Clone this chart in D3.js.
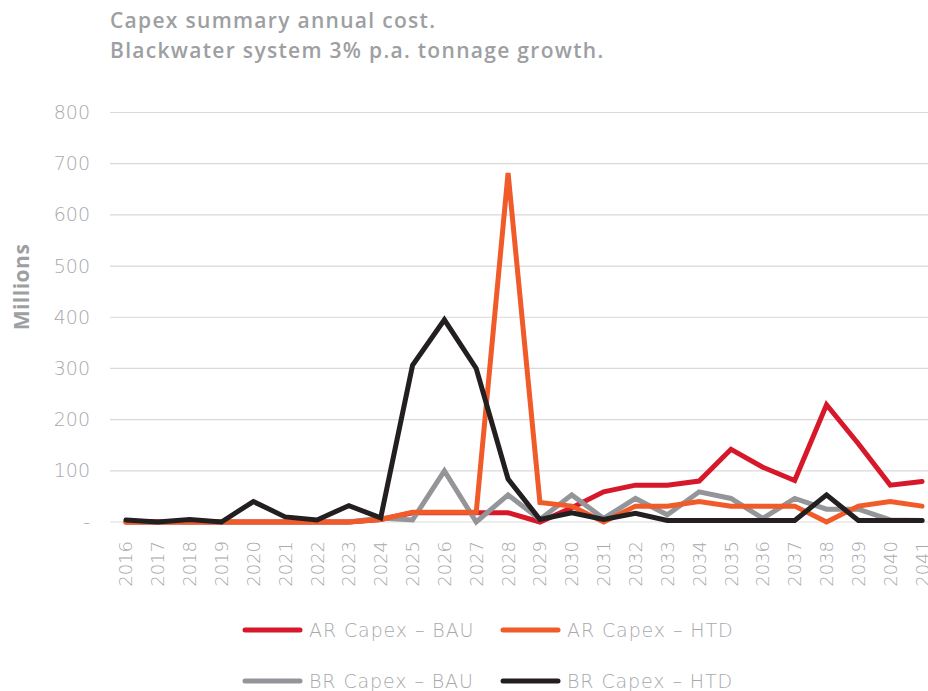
<!DOCTYPE html>
<html><head><meta charset="utf-8">
<script src="https://cdn.jsdelivr.net/npm/d3@7/dist/d3.min.js"></script>
<style>
body{margin:0;background:#fff;}
svg{display:block;}
</style></head>
<body>
<svg id="chart" width="928" height="691"></svg>
<script>
const years = ["2016","2017","2018","2019","2020","2021","2022","2023","2024","2025","2026","2027","2028","2029","2030","2031","2032","2033","2034","2035","2036","2037","2038","2039","2040","2041"];
const arBAU = [0,0,0,0,0,0,0,0,5,18,18,18,18,0,28,59,72,72,80,142,107,81,229,153,72,79];
const arHTD = [0,0,0,0,0,0,0,0,5,19,19,19,682,38,31,0,31,31,40,31,31,31,0,31,40,31];
const brBAU = [0,0,0,0,0,0,0,0,8,4,100,0,53,5,53,7,46,14,59,46,7,46,25,25,4,3];
const brHTD = [4,0,5,0,40,10,4,32,8,306,395,300,84,5,18,5,17,3,3,3,3,3,53,3,3,3];
const yTicks = [0,100,200,300,400,500,600,700,800];
const seriesNames = ["AR Capex – BAU","AR Capex – HTD","BR Capex – BAU","BR Capex – HTD"];
const seriesColors = ["#d7182a","#f15a29","#939598","#231f20"];
const titleLines = ["Capex summary annual cost.","Blackwater system 3% p.a. tonnage growth."];

const svg = d3.select("#chart");
const txtColor = "#a7a9ac";
const lightFont = "'DejaVu Sans', sans-serif";
const x = d3.scaleBand().domain(years).range([110, 938]).padding(0);
const y = d3.scaleLinear().domain([0, 800]).range([522, 112.5]);
const cx = d => x(d) + x.bandwidth()/2;

// title
svg.append("g").selectAll("text").data(titleLines).join("text")
  .attr("x", 110).attr("y", (d,i) => 28 + i*30)
  .attr("font-family", "'Open Sans', sans-serif").attr("font-weight", 600)
  .attr("font-size", 21).attr("letter-spacing", 1.3).attr("fill", "#9d9fa2").text(d => d);

// grid
const grid = svg.append("g");
grid.selectAll("line").data(yTicks).join("line")
  .attr("x1", 110).attr("x2", 928)
  .attr("y1", d => y(d)).attr("y2", d => y(d))
  .attr("stroke", "#d9d9d9").attr("stroke-width", 1.2);

// y axis
const yAxis = d3.axisLeft(y).tickValues(yTicks).tickSize(0).tickPadding(0)
  .tickFormat(d => d === 0 ? "-" : d3.format("d")(d));
const ya = svg.append("g").attr("transform", "translate(90,0)").call(yAxis);
ya.select(".domain").remove();
ya.selectAll("text").attr("font-family", lightFont).attr("font-weight", 200)
  .attr("font-size", 19).attr("fill", txtColor);

// y title
svg.append("text").attr("transform", "translate(29,287) rotate(-90)")
  .attr("text-anchor", "middle").attr("font-family", "'Open Sans', sans-serif")
  .attr("font-weight", 700).attr("font-size", 21).attr("letter-spacing", 0.5)
  .attr("fill", "#9d9fa2").text("Millions");

// x axis
const xAxis = d3.axisBottom(x).tickSize(0).tickPadding(0);
const xa = svg.append("g").attr("transform", "translate(0,541)").call(xAxis);
xa.select(".domain").remove();
xa.selectAll("text").attr("font-family", lightFont).attr("font-weight", 200)
  .attr("font-size", 18).attr("fill", txtColor)
  .attr("text-anchor", "end").attr("dy", null)
  .attr("transform", "rotate(-90)").attr("x", 0).attr("y", 0)
  .attr("dominant-baseline", "central");

// lines
const allSeries = [arBAU, brBAU, arHTD, brHTD];
const allColors = [seriesColors[0], seriesColors[2], seriesColors[1], seriesColors[3]];
const line = d3.line().x((d,i) => cx(years[i])).y(d => y(d));
svg.append("g").selectAll("path").data(allSeries).join("path")
  .attr("d", line).attr("fill", "none")
  .attr("stroke", (d,i) => allColors[i]).attr("stroke-width", 5)
  .attr("stroke-linejoin", "miter").attr("stroke-miterlimit", 4).attr("stroke-linecap", "round");

// legend
const legPos = [[245,630],[503,630],[245,681],[503,681]];
const leg = svg.append("g").selectAll("g").data(seriesNames).join("g")
  .attr("transform", (d,i) => `translate(${legPos[i][0]},${legPos[i][1]})`);
leg.append("line").attr("x1", 0).attr("x2", 55).attr("y1", 0).attr("y2", 0)
  .attr("stroke", (d,i) => seriesColors[i]).attr("stroke-width", 5).attr("stroke-linecap", "round");
leg.append("text").attr("x", 64).attr("y", 0).attr("dy", "0.35em")
  .attr("font-family", lightFont).attr("font-weight", 200)
  .attr("font-size", 19).attr("letter-spacing", 0.9).attr("fill", txtColor).text(d => d);
</script>
</body></html>
